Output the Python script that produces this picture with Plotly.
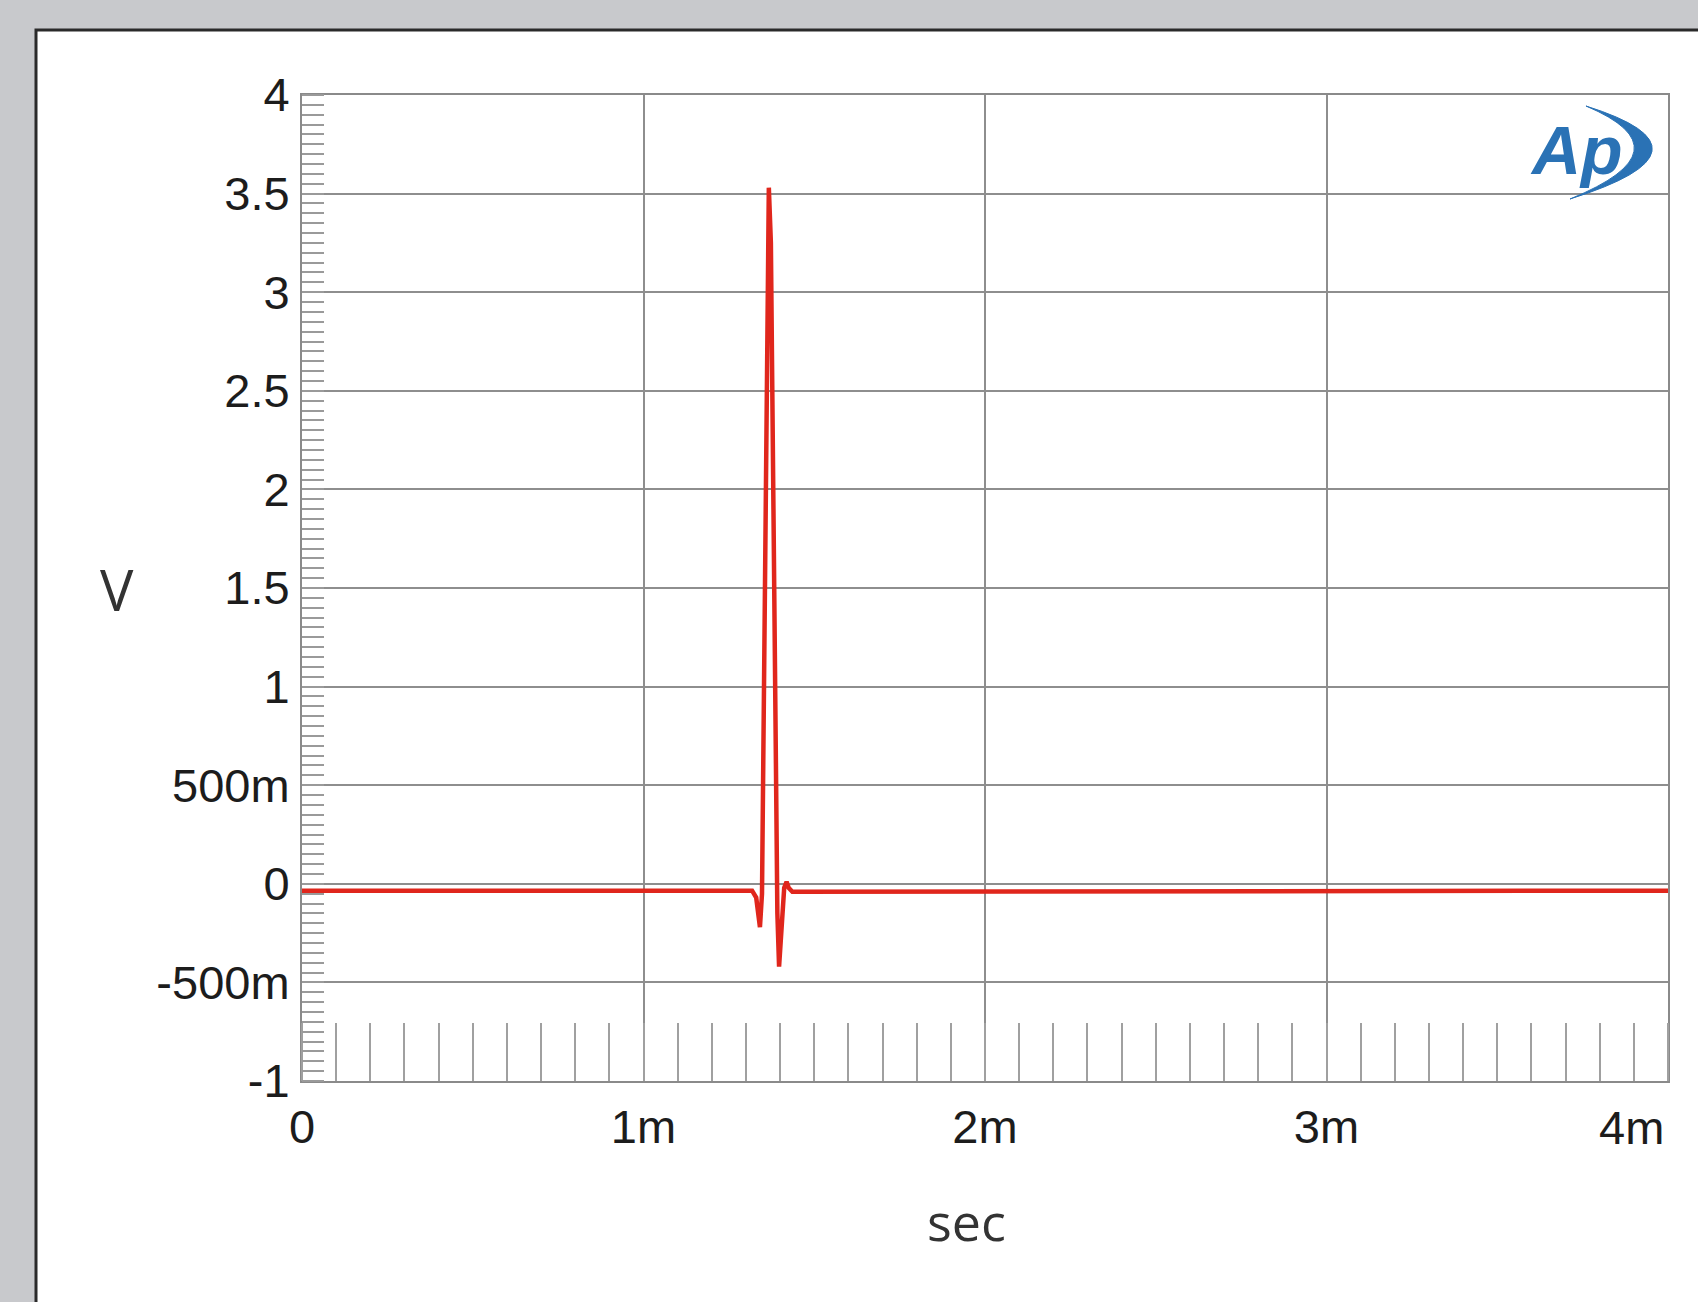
import plotly.graph_objects as go

# ---- data ----
time_ms = [0.0, 1.000, 1.318, 1.330, 1.341, 1.347, 1.356, 1.367, 1.373, 1.384,
           1.392, 1.397, 1.404, 1.412, 1.419, 1.425, 1.436, 2.000, 3.000, 4.000]
volts = [-0.035, -0.035, -0.035, -0.07, -0.22, -0.05, 1.6, 3.53, 3.25, 1.0,
         -0.15, -0.42, -0.2, -0.02, 0.01, -0.02, -0.04, -0.04, -0.035, -0.035]

x_tickvals_ms = [0, 1, 2, 3, 4]
x_ticktext = ["0", "1m", "2m", "3m", ""]   # last label drawn right-aligned below
x_last_label = "4m"
y_tickvals = [-1, -0.5, 0, 0.5, 1, 1.5, 2, 2.5, 3, 3.5, 4]
y_ticktext = ["-1", "-500m", "0", "500m", "1", "1.5", "2", "2.5", "3", "3.5", "4"]

time_s = [t * 1e-3 for t in time_ms]
x_tickvals = [t * 1e-3 for t in x_tickvals_ms]

# ---- layout geometry helpers (pixel -> paper) ----
W, H = 1698, 1302
L, R, T, B = 302, 1668, 95, 1081


def px(x):
    return (x - L) / (R - L)


def py(y):
    return (B - y) / (B - T)


def pt(x, y):
    return f"{px(x):.5f},{py(y):.5f}"


RED = "#e0261c"
GRID = "#8e8e8e"
TICKFONT = dict(family="Liberation Sans, Arial, sans-serif", size=47, color="#1c1c1c")

fig = go.Figure()
fig.add_trace(go.Scatter(x=time_s, y=volts, mode="lines",
                         line=dict(color=RED, width=4.5), showlegend=False,
                         hoverinfo="skip"))

fig.update_layout(
    width=W, height=H,
    margin=dict(l=L, r=W - R, t=T, b=H - B, pad=0, autoexpand=False),
    paper_bgcolor="#c8c9cc",
    plot_bgcolor="white",
    showlegend=False,
)

fig.update_xaxes(
    range=[0, 0.004], tickvals=x_tickvals, ticktext=x_ticktext,
    tickfont=TICKFONT, ticks="", ticklabelstandoff=4,
    automargin=False,
    showgrid=True, gridcolor=GRID, gridwidth=1.6,
    showline=True, linecolor="#8a8a8a", linewidth=2, mirror=True,
    zeroline=False,
    minor=dict(dtick=0.0001, tick0=0, ticks="inside", ticklen=58,
               tickcolor="#a0a0a0", tickwidth=2, showgrid=False),
)
fig.update_yaxes(
    range=[-1, 4], tickvals=y_tickvals, ticktext=y_ticktext,
    tickfont=TICKFONT, ticks="", ticklabelstandoff=1, ticklabeloverflow="allow",
    automargin=False,
    showgrid=True, gridcolor=GRID, gridwidth=1.6,
    showline=True, linecolor="#8a8a8a", linewidth=2, mirror=True,
    zeroline=False,
    minor=dict(dtick=0.05, tick0=0, ticks="inside", ticklen=22,
               tickcolor="#9a9a9a", tickwidth=1.5, showgrid=False),
)

shapes = [
    # white panel with dark border
    dict(type="rect", xref="paper", yref="paper", layer="below",
         x0=px(36), y0=py(1330), x1=px(1720), y1=py(30),
         fillcolor="white", line=dict(color="#2a2a2a", width=3)),
    # Ap logo crescent
    dict(type="path", xref="paper", yref="paper", layer="above",
         path=f"M {pt(1586,106)} Q {pt(1726,150)} {pt(1570,199)} "
              f"Q {pt(1690,150)} {pt(1586,106)} Z",
         fillcolor="#2a72b5", line=dict(color="#2a72b5", width=1)),
]
fig.update_layout(shapes=shapes)

annotations = [
    dict(text=x_last_label, xref="x", yref="paper", x=x_tickvals[-1], y=py(1127),
         xanchor="right", yanchor="middle", showarrow=False, xshift=-2,
         font=TICKFONT),
    dict(text="V", xref="paper", yref="paper", x=px(117), y=py(589),
         xanchor="center", yanchor="middle", showarrow=False,
         font=dict(family="Open Sans, sans-serif", size=56, color="#333333")),
    dict(text="sec", xref="paper", yref="paper", x=px(966), y=py(1220),
         xanchor="center", yanchor="middle", showarrow=False,
         font=dict(family="Open Sans, sans-serif", size=52, color="#333333")),
    dict(text="<b><i>Ap</i></b>", xref="paper", yref="paper", x=px(1576), y=py(150),
         xanchor="center", yanchor="middle", showarrow=False,
         font=dict(family="Liberation Sans, Arial, sans-serif", size=68, color="#2a72b5")),
]
fig.update_layout(annotations=annotations)

fig.write_html("out.html")
